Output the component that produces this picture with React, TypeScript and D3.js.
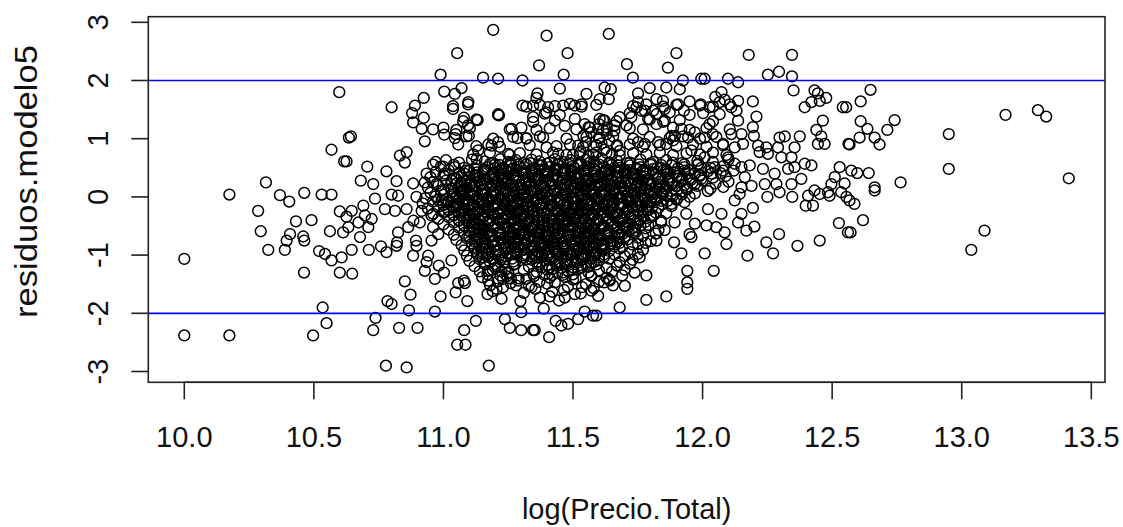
import React from "react";
import * as d3 from "d3";

type P = [number, number];

// log(Precio.Total), residuos.modelo5 pairs, grouped by area
const leftPoints: P[] = [
  [10.598,1.80],[10.635,1.02],[10.568,0.81],[10.617,0.61],[10.315,0.25],[10.174,0.04],[10.369,0.03],[10.463,0.07],[10.53,0.04],[10.568,0.04],
  [10.405,-0.08],[10.285,-0.24],[10.431,-0.42],[10.491,-0.40],[10.295,-0.59],[10.408,-0.64],[10.459,-0.68],[10.463,-0.75],[10.395,-0.75],[10.324,-0.91],
  [10.388,-0.91],[10.562,-0.59],[10.613,-0.61],[10.60,-0.25],[10.626,-0.34],[10.52,-0.93],[10.543,-0.98],[10.568,-1.09],[10.607,-1.04],[10.60,-1.30],
  [10.462,-1.30],[10.0,-1.065],[10.534,-1.90],[10.549,-2.17],[10.0,-2.38],[10.174,-2.38],[10.497,-2.38],
  [10.778,-2.90],[10.858,-2.93],[10.729,-2.29],[10.829,-2.25],[10.90,-2.25],[10.738,-2.08],[10.867,-1.95],[10.784,-1.79],[10.80,-1.84],
  [10.851,-1.45],[10.873,-1.68],[10.648,-1.32],[10.712,-0.91],[10.759,-0.85],[10.78,-0.95],[10.819,-0.84],[10.646,-0.91],[10.825,-0.61],[10.821,-0.78],
  [10.894,-0.75],[10.896,-0.84],[10.678,-0.69],[10.71,-0.52],[10.723,-0.38],[10.633,-0.52],[10.672,-0.44],[10.697,-0.32],[10.646,-0.24],[10.691,-0.15],
  [10.736,-0.03],[10.80,0.04],[10.825,0.02],[10.896,0.0],[10.774,-0.21],[10.813,-0.24],[10.858,-0.21],[10.916,-0.24],[10.884,-0.41],[10.909,-0.44],
  [10.864,-0.52],[10.883,-1.01],[10.928,-1.27],[10.941,-1.01],[10.935,-1.12],
  [10.643,1.04],[10.626,0.61],[10.832,0.71],[10.858,0.77],[10.851,0.59],[10.706,0.52],[10.78,0.44],[10.681,0.28],[10.729,0.22],[10.819,0.27],
  [10.935,0.40],[10.883,0.23],[10.928,0.25],[10.80,1.54],[10.89,1.57],[10.924,1.70],[10.879,1.44],[10.883,1.28],[10.924,1.36],[10.916,1.17],[10.928,0.955],
];

const lowerPoints: P[] = [
  [11.175,-2.90],[11.053,-2.54],[11.085,-2.54],[11.08,-2.29],[11.125,-2.13],[10.967,-1.97],[10.989,-1.71],[11.047,-1.64],[11.092,-1.79],[11.083,-1.48],
  [11.173,-1.44],[11.17,-1.67],[11.205,-1.58],[11.224,-1.75],[11.237,-2.10],[11.256,-2.25],[11.30,-2.29],[11.346,-2.29],[11.352,-2.29],[11.297,-1.79],
  [11.30,-1.98],[11.408,-2.41],[11.372,-1.73],[11.41,-1.71],[11.446,-1.78],[11.387,-1.92],[11.433,-2.13],[11.455,-2.21],[11.481,-2.18],[11.52,-2.10],
  [11.545,-1.97],[11.577,-2.04],[11.571,-1.61],[11.507,-1.67],[11.468,-1.73],[11.359,-1.04],[11.346,-1.32],[11.288,-1.44],[11.224,-1.28],[11.23,-1.41],
  [11.172,-1.27],[11.057,-1.48],[11.079,-1.44],[11.031,-1.09],[10.982,-1.18],[11.002,-1.30],[10.967,-1.41],[10.954,-0.75],[10.954,-0.32],[10.993,-0.06],
  [11.005,-0.26],[10.96,-0.52],[10.98,-0.64],
  [11.68,-1.90],[11.783,-1.77],[11.86,-1.71],[11.941,-1.27],[11.941,-1.47],[11.941,-1.58],[12.043,-1.27],[11.783,-1.35],[11.738,-1.30],[11.654,-1.52],
  [11.642,-1.44],[11.597,-1.70],[11.59,-2.04],[11.757,-1.04],[11.751,-0.81],[11.822,-0.75],[11.89,-0.78],[11.918,-0.97],[12.008,-0.97],[12.092,-0.81],
  [12.085,-0.61],[12.053,-0.52],[12.015,-0.49],[11.97,-0.46],[11.95,-0.64],[11.957,-0.69],[11.854,-0.57],[11.892,-0.44],[11.937,-0.29],[12.021,-0.21],
  [12.073,-0.29],[12.124,-0.06],[12.143,0.05],[12.137,-0.44],[12.169,-0.58],[12.20,-0.51],[12.15,-0.29],[12.194,-0.19],[12.173,-1.01],[12.246,-0.78],
  [12.272,-0.97],[12.295,-0.64],[12.366,-0.84],[12.452,-0.75],[12.25,0.0],[12.297,0.08],[12.346,0.0],[12.407,0.02],[12.452,0.05],[12.49,0.02],
  [12.398,-0.15],[12.426,-0.15],[12.526,-0.45],[12.561,-0.61],[12.555,0.0],
  [11.17,-1.33],[11.21,-1.45],[11.245,-1.36],[11.28,-1.52],[11.32,-1.41],[11.355,-1.58],[11.39,-1.34],[11.43,-1.47],[11.465,-1.60],[11.50,-1.42],
  [11.535,-1.55],[11.57,-1.35],[11.60,-1.46],[11.19,-1.62],[11.31,-1.65],[11.42,-1.63],[11.53,-1.66],[11.26,-1.40],[11.37,-1.46],[11.47,-1.38],
  [11.58,-1.57],[11.64,-1.42],[11.34,-1.55],[11.23,-1.55],
];

const rightPoints: P[] = [
  [12.567,-0.06],[12.586,-0.12],[12.664,0.11],[12.619,-0.40],[12.571,-0.61],[13.088,-0.58],[13.037,-0.91],
  [12.648,1.84],[12.61,1.64],[12.554,1.54],[12.741,1.32],[12.713,1.15],[12.61,1.30],[12.636,1.17],[12.606,1.02],[12.664,1.02],
  [12.683,0.90],[12.567,0.90],[12.95,1.08],[13.169,1.41],[13.294,1.49],[13.326,1.38],[12.95,0.48],[13.413,0.32],[12.764,0.25],[12.664,0.165],
  [12.574,0.45],[12.597,0.41],[12.641,0.41],[12.548,0.23],
];

const upperLeftPoints: P[] = [
  [11.192,2.87],[11.398,2.77],[11.053,2.47],[11.479,2.47],[11.369,2.26],[10.989,2.10],[11.464,2.10],[11.153,2.05],[11.211,2.03],[11.305,2.0],
  [11.449,1.86],[11.363,1.78],[11.552,1.77],[11.003,1.81],[11.044,1.77],[11.07,1.87],[11.096,1.63],[11.037,1.51],[11.079,1.36],[11.132,1.32],
  [11.095,1.23],[11.098,1.05],[11.003,1.07],[11.047,1.08],[11.057,0.90],[11.211,1.41],[11.214,1.40],[11.305,1.57],[11.346,1.57],[11.359,1.70],
  [11.404,1.54],[11.462,1.57],[11.507,1.57],[11.533,1.59],[11.346,1.37],[11.391,1.43],[11.43,1.31],[11.468,1.22],[11.507,1.34],[11.545,1.25],
  [11.263,1.17],[11.286,1.01],[11.32,1.0],[11.385,1.02],[11.398,0.85],[11.443,0.74],[11.211,0.94],[11.186,0.88],[11.134,0.80],[11.128,0.65],
  [11.25,0.74],[10.96,0.555],[10.999,0.52],[11.044,0.51],[11.089,0.45],[10.973,0.22],[11.031,0.28],[11.005,0.40],
];

const upperRightPoints: P[] = [
  [11.638,2.80],[11.899,2.47],[12.178,2.44],[12.345,2.44],[11.708,2.28],[11.866,2.22],[11.731,2.05],[12.252,2.10],[12.295,2.15],[12.345,2.07],
  [11.924,2.0],[11.995,2.03],[12.008,2.03],[12.098,2.03],[12.137,1.97],[12.351,1.83],[11.622,1.88],[11.646,1.85],[11.603,1.68],[11.638,1.68],
  [11.751,1.78],[11.796,1.87],[11.86,1.88],[11.912,1.85],[11.822,1.68],[11.847,1.65],[11.751,1.63],[11.745,1.54],[11.777,1.48],[11.809,1.48],
  [11.854,1.51],[11.95,1.64],[11.993,1.59],[12.027,1.54],[12.066,1.63],[12.049,1.72],[12.073,1.80],[12.085,1.67],[12.111,1.54],[12.137,1.65],
  [12.194,1.64],[11.905,1.59],[11.928,1.48],[12.432,1.83],[12.445,1.78],[12.477,1.70],[12.42,1.63],[12.394,1.54],[12.452,1.65],[12.541,1.54],
  [12.464,1.31],[12.439,1.15],[12.458,1.04],[12.445,0.91],[12.471,0.91],[12.563,0.91],[12.208,1.38],[12.194,1.20],[12.198,1.05],[12.15,1.08],
  [12.156,0.91],[12.124,0.85],[12.111,1.08],[12.137,1.31],[12.131,1.48],[12.214,0.88],[12.22,0.77],[12.246,0.85],[12.252,0.74],[12.297,1.02],
  [12.317,1.04],[12.375,1.04],[12.355,0.85],[12.291,0.85],[12.027,1.25],[12.039,1.08],[12.008,1.02],[11.97,1.11],[11.944,1.02],[11.918,1.17],
  [11.893,1.05],[11.886,0.97],[11.854,1.31],[11.822,1.25],[11.79,1.34],[11.764,1.48],[11.725,1.37],[11.706,1.23],[11.68,1.37],[11.661,1.23],
  [11.622,1.31],[11.603,1.34],[11.597,1.17],[11.751,0.94],[11.777,0.91],[11.828,0.94],[11.86,0.91],[11.88,1.05],[12.304,0.68],[12.343,0.68],
  [12.394,0.57],[12.355,0.51],[12.33,0.48],[12.42,0.54],[12.15,0.51],[12.182,0.54],[12.233,0.48],[12.278,0.40],[12.163,0.34],[12.189,0.19],
  [12.15,0.165],[12.24,0.22],[12.285,0.22],[12.343,0.22],[12.381,0.31],[12.529,0.51],[12.51,0.34],[12.497,0.22],[12.432,0.11],[12.484,0.08],
  [12.535,0.08],[12.079,0.91],[12.098,0.68],[12.124,0.57],[12.079,0.45],[12.047,0.51],[12.008,0.68],[11.983,0.57],[11.957,0.80],
];

const upperCorePoints: P[] = [
  [11.037,1.56],[11.095,1.59],[11.32,1.55],[11.372,1.58],[11.43,1.56],[11.488,1.60],[11.533,1.55],[11.59,1.58],[11.732,1.56],[11.783,1.59],[11.848,1.55],[11.899,1.58],[11.99,1.57],[12.04,1.55],[12.105,1.59],
  [11.211,1.42],[11.397,1.45],[11.449,1.41],[11.719,1.44],[11.822,1.42],[11.873,1.45],[11.95,1.41],[12.002,1.44],[12.066,1.42],
  [11.076,1.30],[11.127,1.33],[11.346,1.29],[11.616,1.32],[11.668,1.30],[11.796,1.33],[11.848,1.29],[11.912,1.32],[12.04,1.30],
  [10.96,1.16],[11.0,1.19],[11.05,1.15],[11.102,1.18],[11.256,1.16],[11.301,1.19],[11.359,1.15],[11.41,1.18],[11.513,1.16],[11.565,1.19],[11.616,1.15],[11.719,1.18],[11.77,1.16],[11.886,1.19],[11.95,1.15],[12.015,1.18],[12.105,1.16],
  [11.044,1.01],[11.089,1.04],[11.192,1.00],[11.269,1.03],[11.32,1.01],[11.372,1.04],[11.475,1.00],[11.552,1.03],[11.603,1.01],[11.655,1.04],[11.732,1.00],[11.796,1.03],[11.873,1.01],[11.925,1.04],[11.99,1.00],[12.053,1.03],
  [11.127,0.87],[11.173,0.90],[11.218,0.86],[11.333,0.89],[11.436,0.87],[11.488,0.90],[11.539,0.86],[11.59,0.89],[11.668,0.87],[11.719,0.90],[11.77,0.86],[11.835,0.89],[11.899,0.87],[11.963,0.90],[12.015,0.86],[12.079,0.89],
  [11.115,0.73],[11.179,0.76],[11.256,0.72],[11.295,0.75],[11.359,0.73],[11.423,0.76],[11.475,0.72],[11.526,0.75],[11.578,0.73],[11.629,0.76],[11.68,0.72],[11.732,0.75],[11.783,0.73],[11.835,0.76],[11.886,0.72],[11.938,0.75],[11.99,0.73],[12.04,0.76],[12.092,0.72],
  [11.50,0.72],[11.53,0.78],[11.56,0.70],[11.59,0.76],[11.62,0.81],[11.65,0.73],[11.68,0.79],[11.52,0.88],[11.55,0.94],[11.58,0.86],[11.61,0.92],[11.64,0.97],[11.67,0.89],[11.54,1.05],[11.57,1.11],[11.60,1.02],[11.63,1.08],[11.66,1.14],[11.56,1.20],[11.60,1.25],[11.63,1.19],
];

const coreUpperRows: P[] = [
  [10.97,0.60],[11.01,0.63],[11.06,0.59],[11.11,0.64],[11.16,0.61],[11.19,0.58],[11.22,0.65],[11.25,0.60],[11.28,0.63],[11.31,0.58],[11.34,0.64],[11.37,0.61],[11.40,0.57],[11.43,0.65],[11.46,0.60],[11.49,0.63],[11.52,0.58],[11.55,0.64],[11.58,0.60],[11.61,0.66],[11.64,0.59],[11.67,0.62],[11.71,0.58],[11.76,0.64],[11.81,0.60],[11.86,0.63],[11.92,0.58],[11.98,0.62],[12.04,0.60],[12.10,0.64],
  [10.99,0.52],[11.04,0.55],[11.08,0.50],[11.13,0.54],[11.17,0.51],[11.20,0.56],[11.23,0.50],[11.26,0.54],[11.29,0.52],[11.32,0.56],[11.35,0.50],[11.38,0.54],[11.41,0.51],[11.44,0.55],[11.47,0.49],[11.50,0.53],[11.53,0.56],[11.56,0.50],[11.59,0.54],[11.62,0.51],[11.65,0.55],[11.68,0.50],[11.72,0.54],[11.76,0.51],[11.80,0.55],[11.84,0.50],[11.88,0.54],[11.93,0.51],[11.98,0.55],[12.03,0.50],[12.08,0.53],
  [10.97,0.43],[11.02,0.46],[11.06,0.41],[11.10,0.45],[11.13,0.42],[11.16,0.47],[11.19,0.41],[11.22,0.45],[11.25,0.42],[11.28,0.46],[11.31,0.40],[11.34,0.44],[11.37,0.47],[11.40,0.41],[11.43,0.45],[11.46,0.42],[11.49,0.46],[11.52,0.40],[11.55,0.44],[11.58,0.47],[11.61,0.41],[11.64,0.45],[11.67,0.42],[11.70,0.46],[11.73,0.40],[11.77,0.44],[11.81,0.41],[11.85,0.46],[11.89,0.42],[11.93,0.45],[11.97,0.40],[12.02,0.44],[12.07,0.41],[12.12,0.45],
  [10.95,0.34],[11.00,0.37],[11.04,0.32],[11.07,0.36],[11.10,0.33],[11.13,0.37],[11.16,0.31],[11.19,0.35],[11.22,0.38],[11.25,0.32],[11.28,0.36],[11.31,0.33],[11.34,0.37],[11.37,0.31],[11.40,0.35],[11.43,0.38],[11.46,0.32],[11.49,0.36],[11.52,0.33],[11.55,0.37],[11.58,0.31],[11.61,0.35],[11.64,0.38],[11.67,0.32],[11.70,0.36],[11.73,0.33],[11.76,0.37],[11.79,0.31],[11.83,0.35],[11.87,0.33],[11.91,0.37],[11.95,0.32],[11.99,0.36],[12.04,0.33],[12.09,0.36],
  [10.96,0.25],[11.01,0.28],[11.05,0.23],[11.08,0.27],[11.11,0.24],[11.14,0.28],[11.17,0.22],[11.20,0.26],[11.23,0.29],[11.26,0.23],[11.29,0.27],[11.32,0.24],[11.35,0.28],[11.38,0.22],[11.41,0.26],[11.44,0.29],[11.47,0.23],[11.50,0.27],[11.53,0.24],[11.56,0.28],[11.59,0.22],[11.62,0.26],[11.65,0.29],[11.68,0.23],[11.71,0.27],[11.74,0.24],[11.77,0.28],[11.80,0.22],[11.84,0.26],[11.88,0.23],[11.92,0.27],[11.96,0.24],[12.00,0.28],[12.05,0.23],[12.10,0.26],
  [10.94,0.16],[10.98,0.19],[11.03,0.14],[11.06,0.18],[11.09,0.15],[11.12,0.19],[11.15,0.13],[11.18,0.17],[11.21,0.20],[11.24,0.14],[11.27,0.18],[11.30,0.15],[11.33,0.19],[11.36,0.13],[11.39,0.17],[11.42,0.20],[11.45,0.14],[11.48,0.18],[11.51,0.15],[11.54,0.19],[11.57,0.13],[11.60,0.17],[11.63,0.20],[11.66,0.14],[11.69,0.18],[11.72,0.15],[11.75,0.19],[11.78,0.13],[11.82,0.17],[11.86,0.14],[11.90,0.18],[11.94,0.15],[11.98,0.19],[12.03,0.14],[12.08,0.17],
  [10.95,0.07],[10.99,0.10],[11.04,0.05],[11.07,0.09],[11.10,0.06],[11.13,0.10],[11.16,0.04],[11.19,0.08],[11.22,0.11],[11.25,0.05],[11.28,0.09],[11.31,0.06],[11.34,0.10],[11.37,0.04],[11.40,0.08],[11.43,0.11],[11.46,0.05],[11.49,0.09],[11.52,0.06],[11.55,0.10],[11.58,0.04],[11.61,0.08],[11.64,0.11],[11.67,0.05],[11.70,0.09],[11.73,0.06],[11.76,0.10],[11.80,0.04],[11.84,0.08],[11.88,0.05],[11.92,0.09],[11.97,0.06],[12.02,0.10],
];

const coreMiddleRows: P[] = [
  [10.93,-0.02],[10.97,0.01],[11.01,-0.04],[11.05,0.00],[11.08,-0.03],[11.11,0.01],[11.14,-0.05],[11.17,-0.01],[11.20,0.02],[11.23,-0.04],[11.26,0.00],[11.29,-0.03],[11.32,0.01],[11.35,-0.05],[11.38,-0.01],[11.41,0.02],[11.44,-0.04],[11.47,0.00],[11.50,-0.03],[11.53,0.01],[11.56,-0.05],[11.59,-0.01],[11.62,0.02],[11.65,-0.04],[11.68,0.00],[11.71,-0.03],[11.74,0.01],[11.78,-0.05],[11.82,-0.01],[11.86,0.02],[11.90,-0.03],[11.95,0.00],
  [10.92,-0.11],[10.96,-0.08],[11.00,-0.13],[11.03,-0.09],[11.06,-0.12],[11.09,-0.08],[11.12,-0.14],[11.15,-0.10],[11.18,-0.07],[11.21,-0.13],[11.24,-0.09],[11.27,-0.12],[11.30,-0.08],[11.33,-0.14],[11.36,-0.10],[11.39,-0.07],[11.42,-0.13],[11.45,-0.09],[11.48,-0.12],[11.51,-0.08],[11.54,-0.14],[11.57,-0.10],[11.60,-0.07],[11.63,-0.13],[11.66,-0.09],[11.69,-0.12],[11.72,-0.08],[11.76,-0.14],[11.80,-0.10],[11.84,-0.07],[11.88,-0.12],[11.93,-0.09],
  [10.94,-0.20],[10.98,-0.17],[11.02,-0.22],[11.05,-0.18],[11.08,-0.21],[11.11,-0.17],[11.14,-0.23],[11.17,-0.19],[11.20,-0.16],[11.23,-0.22],[11.26,-0.18],[11.29,-0.21],[11.32,-0.17],[11.35,-0.23],[11.38,-0.19],[11.41,-0.16],[11.44,-0.22],[11.47,-0.18],[11.50,-0.21],[11.53,-0.17],[11.56,-0.23],[11.59,-0.19],[11.62,-0.16],[11.65,-0.22],[11.68,-0.18],[11.71,-0.21],[11.75,-0.17],[11.79,-0.23],[11.83,-0.19],[11.88,-0.16],
  [10.96,-0.29],[11.00,-0.26],[11.04,-0.31],[11.07,-0.27],[11.10,-0.30],[11.13,-0.26],[11.16,-0.32],[11.19,-0.28],[11.22,-0.25],[11.25,-0.31],[11.28,-0.27],[11.31,-0.30],[11.34,-0.26],[11.37,-0.32],[11.40,-0.28],[11.43,-0.25],[11.46,-0.31],[11.49,-0.27],[11.52,-0.30],[11.55,-0.26],[11.58,-0.32],[11.61,-0.28],[11.64,-0.25],[11.67,-0.31],[11.70,-0.27],[11.73,-0.30],[11.77,-0.26],[11.81,-0.32],[11.86,-0.28],
  [10.98,-0.38],[11.02,-0.35],[11.06,-0.40],[11.09,-0.36],[11.12,-0.39],[11.15,-0.35],[11.18,-0.41],[11.21,-0.37],[11.24,-0.34],[11.27,-0.40],[11.30,-0.36],[11.33,-0.39],[11.36,-0.35],[11.39,-0.41],[11.42,-0.37],[11.45,-0.34],[11.48,-0.40],[11.51,-0.36],[11.54,-0.39],[11.57,-0.35],[11.60,-0.41],[11.63,-0.37],[11.66,-0.34],[11.69,-0.40],[11.72,-0.36],[11.76,-0.39],[11.80,-0.35],[11.84,-0.41],
  [11.00,-0.47],[11.04,-0.44],[11.08,-0.49],[11.11,-0.45],[11.14,-0.48],[11.17,-0.44],[11.20,-0.50],[11.23,-0.46],[11.26,-0.43],[11.29,-0.49],[11.32,-0.45],[11.35,-0.48],[11.38,-0.44],[11.41,-0.50],[11.44,-0.46],[11.47,-0.43],[11.50,-0.49],[11.53,-0.45],[11.56,-0.48],[11.59,-0.44],[11.62,-0.50],[11.65,-0.46],[11.68,-0.43],[11.71,-0.49],[11.75,-0.45],[11.79,-0.48],[11.84,-0.44],
];

const coreLowerRows: P[] = [
  [11.02,-0.56],[11.06,-0.53],[11.10,-0.58],[11.13,-0.54],[11.16,-0.57],[11.19,-0.53],[11.22,-0.59],[11.25,-0.55],[11.28,-0.52],[11.31,-0.58],[11.34,-0.54],[11.37,-0.57],[11.40,-0.53],[11.43,-0.59],[11.46,-0.55],[11.49,-0.52],[11.52,-0.58],[11.55,-0.54],[11.58,-0.57],[11.61,-0.53],[11.64,-0.59],[11.67,-0.55],[11.70,-0.52],[11.74,-0.58],[11.78,-0.54],[11.83,-0.57],
  [11.04,-0.65],[11.08,-0.62],[11.12,-0.67],[11.15,-0.63],[11.18,-0.66],[11.21,-0.62],[11.24,-0.68],[11.27,-0.64],[11.30,-0.61],[11.33,-0.67],[11.36,-0.63],[11.39,-0.66],[11.42,-0.62],[11.45,-0.68],[11.48,-0.64],[11.51,-0.61],[11.54,-0.67],[11.57,-0.63],[11.60,-0.66],[11.63,-0.62],[11.66,-0.68],[11.69,-0.64],[11.73,-0.61],[11.77,-0.67],[11.82,-0.63],
  [11.05,-0.74],[11.09,-0.71],[11.13,-0.76],[11.16,-0.72],[11.19,-0.75],[11.22,-0.71],[11.25,-0.77],[11.28,-0.73],[11.31,-0.70],[11.34,-0.76],[11.37,-0.72],[11.40,-0.75],[11.43,-0.71],[11.46,-0.77],[11.49,-0.73],[11.52,-0.70],[11.55,-0.76],[11.58,-0.72],[11.61,-0.75],[11.64,-0.71],[11.67,-0.77],[11.71,-0.73],[11.75,-0.70],[11.80,-0.76],
  [11.07,-0.83],[11.11,-0.80],[11.14,-0.85],[11.17,-0.81],[11.20,-0.84],[11.23,-0.80],[11.26,-0.86],[11.29,-0.82],[11.32,-0.79],[11.35,-0.85],[11.38,-0.81],[11.41,-0.84],[11.44,-0.80],[11.47,-0.86],[11.50,-0.82],[11.53,-0.79],[11.56,-0.85],[11.59,-0.81],[11.62,-0.84],[11.65,-0.80],[11.69,-0.86],[11.73,-0.82],[11.78,-0.79],
  [11.08,-0.92],[11.12,-0.89],[11.15,-0.94],[11.18,-0.90],[11.21,-0.93],[11.25,-0.89],[11.28,-0.95],[11.31,-0.91],[11.34,-0.88],[11.37,-0.94],[11.40,-0.90],[11.43,-0.93],[11.46,-0.89],[11.49,-0.95],[11.52,-0.91],[11.55,-0.88],[11.58,-0.94],[11.61,-0.90],[11.64,-0.93],[11.68,-0.89],[11.72,-0.95],[11.77,-0.91],
  [11.09,-1.01],[11.13,-0.98],[11.17,-1.03],[11.20,-0.99],[11.24,-1.02],[11.28,-0.98],[11.31,-1.04],[11.35,-1.00],[11.38,-0.97],[11.41,-1.03],[11.44,-0.99],[11.47,-1.02],[11.50,-0.98],[11.53,-1.04],[11.56,-1.00],[11.59,-0.97],[11.62,-1.03],[11.66,-0.99],[11.70,-1.02],[11.75,-0.98],
  [11.10,-1.10],[11.14,-1.07],[11.18,-1.12],[11.22,-1.08],[11.27,-1.11],[11.32,-1.07],[11.36,-1.13],[11.39,-1.09],[11.42,-1.06],[11.45,-1.12],[11.48,-1.08],[11.51,-1.11],[11.54,-1.07],[11.57,-1.13],[11.60,-1.09],[11.64,-1.06],[11.68,-1.12],[11.73,-1.08],
  [11.12,-1.19],[11.16,-1.16],[11.21,-1.21],[11.27,-1.17],[11.33,-1.20],[11.37,-1.16],[11.41,-1.22],[11.44,-1.18],[11.47,-1.15],[11.50,-1.21],[11.53,-1.17],[11.56,-1.20],[11.59,-1.16],[11.63,-1.22],[11.67,-1.18],[11.72,-1.15],
  [11.14,-1.28],[11.19,-1.25],[11.25,-1.30],[11.31,-1.26],[11.36,-1.29],[11.40,-1.25],[11.44,-1.31],[11.48,-1.27],[11.52,-1.24],[11.56,-1.30],[11.60,-1.26],[11.65,-1.29],[11.70,-1.25],
  [11.15,-1.38],[11.22,-1.35],[11.29,-1.40],[11.35,-1.36],[11.41,-1.39],[11.46,-1.34],[11.51,-1.40],[11.57,-1.36],[11.63,-1.39],[11.69,-1.35],
  [11.18,-1.52],[11.26,-1.48],[11.33,-1.53],[11.40,-1.49],[11.48,-1.54],[11.55,-1.50],[11.62,-1.47],[11.70,-1.53],
];

const coreFillTop: P[] = [
  [11.18,0.57],[11.215,0.55],[11.26,0.59],[11.29,0.56],[11.335,0.58],[11.37,0.54],[11.41,0.59],[11.445,0.56],[11.49,0.58],[11.52,0.55],[11.565,0.59],[11.60,0.56],[11.64,0.58],[11.675,0.54],[11.72,0.59],[11.755,0.56],[11.80,0.58],[11.84,0.55],[11.885,0.59],[11.93,0.56],
  [11.12,0.49],[11.155,0.46],[11.20,0.50],[11.24,0.47],[11.27,0.49],[11.315,0.45],[11.35,0.50],[11.39,0.47],[11.43,0.49],[11.465,0.46],[11.505,0.50],[11.545,0.47],[11.58,0.49],[11.625,0.45],[11.66,0.50],[11.70,0.47],[11.745,0.49],[11.78,0.46],[11.825,0.50],[11.86,0.47],[11.905,0.49],[11.95,0.46],[11.995,0.50],
  [11.08,0.40],[11.12,0.37],[11.15,0.41],[11.195,0.38],[11.235,0.40],[11.27,0.36],[11.31,0.41],[11.355,0.38],[11.39,0.40],[11.425,0.37],[11.47,0.41],[11.505,0.38],[11.545,0.40],[11.585,0.36],[11.62,0.41],[11.66,0.38],[11.70,0.40],[11.745,0.37],[11.78,0.41],[11.82,0.38],[11.865,0.40],[11.90,0.36],[11.945,0.41],[11.99,0.38],[12.035,0.40],
  [11.05,0.31],[11.09,0.28],[11.125,0.32],[11.165,0.29],[11.20,0.31],[11.245,0.27],[11.28,0.32],[11.32,0.29],[11.36,0.31],[11.395,0.28],[11.44,0.32],[11.475,0.29],[11.515,0.31],[11.55,0.27],[11.595,0.32],[11.635,0.29],[11.67,0.31],[11.71,0.28],[11.75,0.32],[11.79,0.29],[11.83,0.31],[11.87,0.27],[11.91,0.32],[11.955,0.29],[11.995,0.31],
  [11.03,0.22],[11.07,0.19],[11.105,0.23],[11.145,0.20],[11.185,0.22],[11.22,0.18],[11.26,0.23],[11.30,0.20],[11.34,0.22],[11.375,0.19],[11.415,0.23],[11.455,0.20],[11.49,0.22],[11.53,0.18],[11.57,0.23],[11.61,0.20],[11.645,0.22],[11.685,0.19],[11.725,0.23],[11.765,0.20],[11.80,0.22],[11.845,0.18],[11.885,0.23],[11.93,0.20],[11.97,0.22],
  [11.00,0.13],[11.04,0.10],[11.08,0.14],[11.115,0.11],[11.155,0.13],[11.19,0.09],[11.235,0.14],[11.27,0.11],[11.31,0.13],[11.35,0.10],[11.385,0.14],[11.425,0.11],[11.465,0.13],[11.50,0.09],[11.545,0.14],[11.58,0.11],[11.62,0.13],[11.66,0.10],[11.695,0.14],[11.735,0.11],[11.775,0.13],[11.815,0.09],[11.855,0.14],[11.90,0.11],[11.94,0.13],
  [11.00,0.04],[11.035,0.01],[11.075,0.05],[11.115,0.02],[11.15,0.04],[11.19,0.00],[11.23,0.05],[11.265,0.02],[11.305,0.04],[11.345,0.01],[11.38,0.05],[11.42,0.02],[11.46,0.04],[11.495,0.00],[11.535,0.05],[11.575,0.02],[11.61,0.04],[11.65,0.01],[11.69,0.05],[11.725,0.02],[11.765,0.04],[11.805,0.00],[11.845,0.05],[11.885,0.02],[11.92,0.04],
];

const coreFillBottom: P[] = [
  [10.98,-0.05],[11.02,-0.08],[11.06,-0.04],[11.095,-0.07],[11.135,-0.05],[11.175,-0.09],[11.21,-0.04],[11.25,-0.07],[11.29,-0.05],[11.325,-0.08],[11.365,-0.04],[11.405,-0.07],[11.44,-0.05],[11.48,-0.09],[11.52,-0.04],[11.555,-0.07],[11.595,-0.05],[11.635,-0.08],[11.67,-0.04],[11.71,-0.07],[11.75,-0.05],[11.785,-0.09],[11.825,-0.04],[11.865,-0.07],[11.90,-0.05],
  [11.00,-0.14],[11.04,-0.17],[11.075,-0.13],[11.115,-0.16],[11.155,-0.14],[11.19,-0.18],[11.23,-0.13],[11.27,-0.16],[11.305,-0.14],[11.345,-0.17],[11.385,-0.13],[11.42,-0.16],[11.46,-0.14],[11.50,-0.18],[11.535,-0.13],[11.575,-0.16],[11.615,-0.14],[11.65,-0.17],[11.69,-0.13],[11.73,-0.16],[11.765,-0.14],[11.805,-0.18],[11.845,-0.13],
  [11.02,-0.23],[11.06,-0.26],[11.095,-0.22],[11.135,-0.25],[11.175,-0.23],[11.21,-0.27],[11.25,-0.22],[11.29,-0.25],[11.325,-0.23],[11.365,-0.26],[11.405,-0.22],[11.44,-0.25],[11.48,-0.23],[11.52,-0.27],[11.555,-0.22],[11.595,-0.25],[11.635,-0.23],[11.67,-0.26],[11.71,-0.22],[11.75,-0.25],[11.785,-0.23],[11.82,-0.27],
  [11.04,-0.32],[11.08,-0.35],[11.115,-0.31],[11.155,-0.34],[11.195,-0.32],[11.23,-0.36],[11.27,-0.31],[11.31,-0.34],[11.345,-0.32],[11.385,-0.35],[11.425,-0.31],[11.46,-0.34],[11.50,-0.32],[11.54,-0.36],[11.575,-0.31],[11.615,-0.34],[11.655,-0.32],[11.69,-0.35],[11.73,-0.31],[11.77,-0.34],[11.80,-0.32],
  [11.06,-0.41],[11.10,-0.44],[11.135,-0.40],[11.175,-0.43],[11.215,-0.41],[11.25,-0.45],[11.29,-0.40],[11.33,-0.43],[11.365,-0.41],[11.405,-0.44],[11.445,-0.40],[11.48,-0.43],[11.52,-0.41],[11.56,-0.45],[11.595,-0.40],[11.635,-0.43],[11.675,-0.41],[11.71,-0.44],[11.75,-0.40],[11.78,-0.43],
  [11.08,-0.50],[11.12,-0.53],[11.155,-0.49],[11.195,-0.52],[11.235,-0.50],[11.27,-0.54],[11.31,-0.49],[11.35,-0.52],[11.385,-0.50],[11.425,-0.53],[11.465,-0.49],[11.50,-0.52],[11.54,-0.50],[11.58,-0.54],[11.615,-0.49],[11.655,-0.52],[11.695,-0.50],[11.73,-0.53],[11.76,-0.49],
  [11.10,-0.59],[11.14,-0.62],[11.175,-0.58],[11.215,-0.61],[11.255,-0.59],[11.29,-0.63],[11.33,-0.58],[11.37,-0.61],[11.405,-0.59],[11.445,-0.62],[11.485,-0.58],[11.52,-0.61],[11.56,-0.59],[11.60,-0.63],[11.635,-0.58],[11.675,-0.61],[11.715,-0.59],[11.74,-0.62],
  [11.10,-0.68],[11.14,-0.71],[11.175,-0.67],[11.215,-0.70],[11.255,-0.68],[11.29,-0.72],[11.33,-0.67],[11.37,-0.70],[11.405,-0.68],[11.445,-0.71],[11.485,-0.67],[11.52,-0.70],[11.56,-0.68],[11.60,-0.72],[11.635,-0.67],[11.675,-0.70],[11.70,-0.68],
  [11.12,-0.77],[11.16,-0.80],[11.195,-0.76],[11.235,-0.79],[11.275,-0.77],[11.31,-0.81],[11.35,-0.76],[11.39,-0.79],[11.425,-0.77],[11.465,-0.80],[11.505,-0.76],[11.54,-0.79],[11.58,-0.77],[11.62,-0.81],[11.655,-0.76],[11.68,-0.79],
  [11.12,-0.86],[11.16,-0.89],[11.195,-0.85],[11.235,-0.88],[11.275,-0.86],[11.31,-0.90],[11.35,-0.85],[11.39,-0.88],[11.425,-0.86],[11.465,-0.89],[11.505,-0.85],[11.54,-0.88],[11.58,-0.86],[11.62,-0.90],[11.66,-0.85],
  [11.13,-0.95],[11.17,-0.98],[11.205,-0.94],[11.245,-0.97],[11.285,-0.95],[11.32,-0.99],[11.36,-0.94],[11.40,-0.97],[11.435,-0.95],[11.475,-0.98],[11.515,-0.94],[11.55,-0.97],[11.59,-0.95],[11.62,-0.99],
  [11.15,-1.04],[11.19,-1.07],[11.225,-1.03],[11.265,-1.06],[11.305,-1.04],[11.34,-1.08],[11.38,-1.03],[11.42,-1.06],[11.455,-1.04],[11.495,-1.07],[11.535,-1.03],[11.57,-1.06],[11.60,-1.04],
  [11.16,-1.13],[11.20,-1.16],[11.235,-1.12],[11.275,-1.15],[11.36,-1.13],[11.40,-1.17],[11.435,-1.12],[11.475,-1.15],[11.515,-1.13],[11.55,-1.16],[11.58,-1.12],
  [11.20,-1.22],[11.24,-1.25],[11.38,-1.21],[11.42,-1.24],[11.455,-1.22],[11.495,-1.26],[11.535,-1.21],
  [11.25,-1.31],[11.42,-1.34],[11.46,-1.30],[11.50,-1.33],
];

const coreDensest: P[] = [
  [11.21,0.44],[11.26,0.47],[11.30,0.43],[11.355,0.46],[11.40,0.44],[11.44,0.48],[11.495,0.43],[11.54,0.46],[11.585,0.44],[11.63,0.47],[11.675,0.43],[11.72,0.46],[11.77,0.45],[11.81,0.48],[11.86,0.43],
  [11.14,0.34],[11.19,0.31],[11.235,0.35],[11.28,0.32],[11.325,0.34],[11.37,0.30],[11.42,0.35],[11.46,0.32],[11.505,0.34],[11.55,0.31],[11.60,0.35],[11.645,0.32],[11.69,0.34],[11.735,0.30],[11.78,0.35],[11.825,0.32],[11.87,0.34],[11.92,0.31],
  [11.10,0.20],[11.145,0.23],[11.19,0.19],[11.24,0.22],[11.285,0.20],[11.33,0.24],[11.375,0.19],[11.42,0.22],[11.47,0.20],[11.515,0.23],[11.56,0.19],[11.605,0.22],[11.65,0.20],[11.70,0.24],[11.745,0.19],[11.79,0.22],[11.835,0.20],[11.88,0.23],
  [11.06,0.10],[11.105,0.07],[11.15,0.11],[11.195,0.08],[11.245,0.10],[11.29,0.06],[11.335,0.11],[11.38,0.08],[11.425,0.10],[11.475,0.07],[11.52,0.11],[11.565,0.08],[11.61,0.10],[11.655,0.06],[11.70,0.11],[11.75,0.08],[11.795,0.10],[11.84,0.07],
  [11.04,-0.02],[11.085,-0.05],[11.13,-0.01],[11.18,-0.04],[11.225,-0.02],[11.27,-0.06],[11.315,-0.01],[11.36,-0.04],[11.41,-0.02],[11.455,-0.05],[11.50,-0.01],[11.545,-0.04],[11.59,-0.02],[11.64,-0.06],[11.685,-0.01],[11.73,-0.04],[11.775,-0.02],[11.82,-0.05],
  [11.05,-0.16],[11.095,-0.13],[11.14,-0.17],[11.19,-0.14],[11.235,-0.16],[11.28,-0.12],[11.325,-0.17],[11.37,-0.14],[11.42,-0.16],[11.465,-0.13],[11.51,-0.17],[11.555,-0.14],[11.60,-0.16],[11.65,-0.12],[11.695,-0.17],[11.74,-0.14],[11.785,-0.16],
  [11.07,-0.26],[11.115,-0.29],[11.16,-0.25],[11.21,-0.28],[11.255,-0.26],[11.30,-0.30],[11.345,-0.25],[11.39,-0.28],[11.44,-0.26],[11.485,-0.29],[11.53,-0.25],[11.575,-0.28],[11.62,-0.26],[11.67,-0.30],[11.715,-0.25],[11.76,-0.28],
  [11.09,-0.40],[11.135,-0.37],[11.18,-0.41],[11.23,-0.38],[11.275,-0.40],[11.32,-0.36],[11.365,-0.41],[11.41,-0.38],[11.46,-0.40],[11.505,-0.37],[11.55,-0.41],[11.595,-0.38],[11.64,-0.40],[11.69,-0.36],[11.735,-0.41],
  [11.11,-0.50],[11.155,-0.53],[11.20,-0.49],[11.25,-0.52],[11.295,-0.50],[11.34,-0.54],[11.385,-0.49],[11.43,-0.52],[11.48,-0.50],[11.525,-0.53],[11.57,-0.49],[11.615,-0.52],[11.66,-0.50],[11.71,-0.54],
  [11.13,-0.64],[11.175,-0.61],[11.22,-0.65],[11.27,-0.62],[11.315,-0.64],[11.36,-0.60],[11.405,-0.65],[11.45,-0.62],[11.50,-0.64],[11.545,-0.61],[11.59,-0.65],[11.635,-0.62],[11.68,-0.64],
  [11.14,-0.74],[11.185,-0.77],[11.23,-0.73],[11.28,-0.76],[11.325,-0.74],[11.37,-0.78],[11.415,-0.73],[11.46,-0.76],[11.51,-0.74],[11.555,-0.77],[11.60,-0.73],[11.645,-0.76],
  [11.15,-0.88],[11.195,-0.85],[11.24,-0.89],[11.29,-0.86],[11.335,-0.88],[11.38,-0.84],[11.425,-0.89],[11.47,-0.86],[11.52,-0.88],[11.565,-0.85],[11.61,-0.89],
  [11.17,-0.98],[11.215,-1.01],[11.26,-0.97],[11.31,-1.00],[11.355,-0.98],[11.40,-1.02],[11.445,-0.97],[11.49,-1.00],[11.54,-0.98],[11.585,-1.01],
];

const xTicks = [10.0, 10.5, 11.0, 11.5, 12.0, 12.5, 13.0, 13.5];
const yTicks = [-3, -2, -1, 0, 1, 2, 3];
const refLines = [-2, 2];
const xLabel = "log(Precio.Total)";
const yLabel = "residuos.modelo5";

const allPoints: P[] = [
  ...leftPoints, ...lowerPoints, ...rightPoints, ...upperLeftPoints, ...upperRightPoints,
  ...upperCorePoints, ...coreUpperRows, ...coreMiddleRows, ...coreLowerRows,
  ...coreFillTop, ...coreFillBottom, ...coreDensest,
];

const W = 1123;
const H = 527;
const plot = { left: 148.3, right: 1105, top: 16.7, bottom: 382.3 };
const FONT = "'Liberation Sans', Arial, Helvetica, sans-serif";

export default function App() {
  const x = d3.scaleLinear().domain([10, 13.5]).range([184.3, 1091.3]);
  const y = d3.scaleLinear().domain([-3, 3]).range([371.5, 22.3]);
  const fs = 29;
  return (
    <svg width={W} height={H} style={{ position: "absolute", left: 0, top: 0, background: "#fff" }}>
      <rect x={0} y={0} width={W} height={H} fill="#fff" />
      {allPoints.map(([a, b], i) => (
        <circle key={i} cx={x(a)} cy={y(b)} r={5.4} fill="none" stroke="#000" strokeWidth={1.5} />
      ))}
      {refLines.map((v) => (
        <line key={v} x1={plot.left} x2={plot.right} y1={y(v)} y2={y(v)} stroke="#0000ff" strokeWidth={1.7} />
      ))}
      <rect x={plot.left} y={plot.top} width={plot.right - plot.left} height={plot.bottom - plot.top} fill="none" stroke="#222" strokeWidth={1.6} />
      <line x1={x(xTicks[0])} x2={x(xTicks[xTicks.length - 1])} y1={plot.bottom} y2={plot.bottom} stroke="#222" strokeWidth={1.6} />
      {xTicks.map((t) => (
        <g key={t}>
          <line x1={x(t)} x2={x(t)} y1={plot.bottom} y2={plot.bottom + 17} stroke="#222" strokeWidth={1.6} />
          <text x={x(t)} y={447} textAnchor="middle" fontFamily={FONT} fontSize={fs} fill="#111">{t.toFixed(1)}</text>
        </g>
      ))}
      {yTicks.map((t) => (
        <g key={t}>
          <line x1={plot.left - 17} x2={plot.left} y1={y(t)} y2={y(t)} stroke="#222" strokeWidth={1.6} />
          <text transform={`translate(108,${y(t)}) rotate(-90)`} textAnchor="middle" fontFamily={FONT} fontSize={fs} fill="#111">{String(t)}</text>
        </g>
      ))}
      <text x={(plot.left + plot.right) / 2} y={519} textAnchor="middle" fontFamily={FONT} fontSize={fs} fill="#111">{xLabel}</text>
      <text transform={`translate(37,181.5) rotate(-90)`} textAnchor="middle" fontFamily={FONT} fontSize={31} textLength={273} lengthAdjust="spacingAndGlyphs" fill="#111">{yLabel}</text>
    </svg>
  );
}
